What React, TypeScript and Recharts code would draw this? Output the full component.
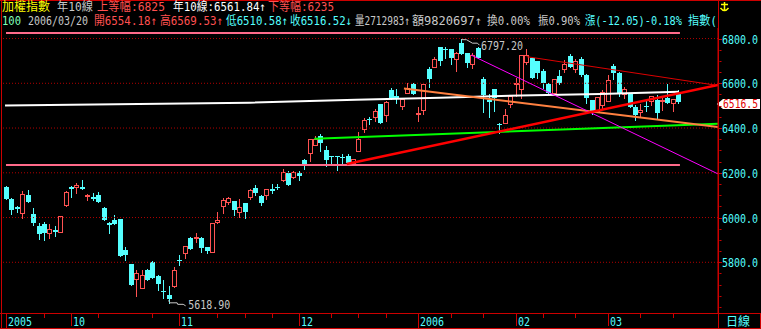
import React from 'react';
import { ComposedChart, Bar, Line, XAxis, YAxis, ReferenceLine, ReferenceDot } from 'recharts';

// ---------- data ----------
const opens = [
  6136, 6082, 6048, 6021, 6099, 6018, 5962, 5969, 5932, 5944,
  5937, 6055, 6136, 6136, 6135, 6095, 6092, 6102, 6043, 5974,
  5988, 5993, 5855, 5793, 5725, 5683, 5766, 5803, 5737, 5670,
  5652, 5695, 5811, 5840, 5907, 5910, 5907, 5867, 5848, 5982,
  6052, 6070, 6073, 6025, 6065, 6093, 6133, 6096, 6101, 6126,
  6138, 6170, 6197, 6182, 6200, 6259, 6289, 6323, 6363, 6304,
  6274, 6277, 6271, 6277, 6244, 6296, 6394, 6439, 6449, 6506,
  6458, 6569, 6543, 6499, 6555, 6596, 6464, 6479, 6663, 6675,
  6760, 6755, 6755, 6710, 6782, 6734, 6688, 6757, 6621, 6524,
  6573, 6418, 6424, 6506, 6596, 6573, 6696, 6715, 6700, 6655,
  6596, 6555, 6633, 6665, 6723, 6662, 6709, 6637, 6526, 6477,
  6501, 6523, 6677, 6644, 6553, 6556, 6492, 6471, 6499, 6523,
  6526, 6521, 6533, 6511, 6554.18,
];
const highs = [
  6139, 6088, 6053, 6117, 6121, 6042, 5974, 5979, 5969, 5963,
  6009, 6119, 6141, 6156, 6170, 6107, 6111, 6113, 6046, 5978,
  6011, 5993, 5867, 5793, 5766, 5766, 5771, 5806, 5744, 5722,
  5696, 5778, 5833, 5873, 5911, 5932, 5911, 5867, 5974, 6025,
  6088, 6092, 6073, 6082, 6065, 6126, 6144, 6099, 6129, 6148,
  6148, 6215, 6210, 6210, 6207, 6262, 6351, 6363, 6373, 6321,
  6277, 6277, 6286, 6286, 6262, 6381, 6443, 6449, 6484, 6506,
  6521, 6578, 6573, 6528, 6603, 6603, 6496, 6596, 6675, 6719,
  6764, 6764, 6755, 6740, 6797.2, 6734, 6737, 6760, 6628, 6551,
  6573, 6421, 6484, 6546, 6625, 6725, 6752, 6715, 6700, 6666,
  6603, 6618, 6660, 6703, 6730, 6710, 6716, 6640, 6526, 6538,
  6570, 6637, 6684, 6652, 6585, 6556, 6504, 6507, 6526, 6545,
  6548, 6536, 6596, 6529, 6569.53,
];
const lows = [
  6082, 6015, 6024, 6000, 6070, 5966, 5904, 5900, 5910, 5917,
  5937, 6051, 6092, 6111, 6126, 6077, 6077, 6070, 5988, 5932,
  5971, 5830, 5811, 5697, 5651, 5683, 5720, 5728, 5678, 5641,
  5618.9, 5688, 5789, 5821, 5858, 5892, 5848, 5840, 5848, 5977,
  6022, 6062, 6011, 6003, 6000, 6081, 6099, 6055, 6081, 6111,
  6126, 6163, 6145, 6175, 6167, 6215, 6252, 6323, 6296, 6230,
  6241, 6212, 6244, 6244, 6244, 6296, 6382, 6416, 6431, 6421,
  6431, 6528, 6513, 6484, 6555, 6551, 6431, 6461, 6585, 6675,
  6681, 6715, 6685, 6655, 6733, 6675, 6670, 6712, 6472, 6451,
  6476, 6379, 6421, 6496, 6543, 6536, 6688, 6625, 6625, 6581,
  6551, 6549, 6596, 6652, 6671, 6650, 6634, 6510, 6462, 6470,
  6486, 6523, 6619, 6545, 6533, 6496, 6437, 6449, 6477, 6504,
  6444, 6481, 6511, 6474, 6510.58,
];
const closes = [
  6082, 6033, 6037, 6104, 6070, 5977, 5926, 5932, 5948, 5937,
  6009, 6116, 6129, 6144, 6129, 6099, 6082, 6070, 5988, 5965,
  5971, 5830, 5833, 5700, 5752, 5744, 5722, 5728, 5704, 5666,
  5638, 5766, 5808, 5873, 5861, 5914, 5864, 5852, 5974, 5988,
  6077, 6088, 6033, 6045, 6025, 6123, 6108, 6064, 6129, 6120,
  6133, 6204, 6145, 6204, 6185, 6237, 6351, 6351, 6333, 6255,
  6270, 6270, 6264, 6244, 6262, 6351, 6436, 6434, 6476, 6421,
  6516, 6536, 6536, 6528, 6581, 6554, 6469, 6596, 6621, 6710,
  6700, 6749, 6715, 6737, 6733, 6690, 6725, 6715, 6546, 6516,
  6536, 6412, 6457, 6543, 6600, 6725, 6725, 6625, 6648, 6603,
  6558, 6618, 6600, 6688, 6673, 6698, 6637, 6535, 6477, 6538,
  6560, 6615, 6644, 6556, 6575, 6496, 6459, 6481, 6493, 6541,
  6467, 6526, 6511, 6528.57, 6516.52,
];

const monthTickIdx = [0, 12, 32, 54, 76, 94, 111];
const monthTickLabels = ['2005', '10', '11', '12', '2006', '02', '03'];
const weekTickIdx = [7, 17, 27, 39, 44, 49, 60, 65, 70, 82, 88, 99, 105, 117, 123];

const priceTicks = [5600, 5650, 5700, 5750, 5800, 5850, 5900, 5950, 6000, 6050, 6100, 6150, 6200,
  6250, 6300, 6350, 6400, 6450, 6500, 6550, 6600, 6650, 6700, 6750, 6800];
const gridLevels = [5800, 6000, 6200, 6400, 6600, 6800];

const upperBand = [{ i: 0, v: 6825 }, { i: 124.3, v: 6825 }];
const lowerBand = [{ i: 0, v: 6235 }, { i: 124.3, v: 6235 }];
const yearLine = [
  { i: -0.18, v: 6500.8 }, { i: 45.0, v: 6513.3 }, { i: 64.55, v: 6526.7 }, { i: 80.05, v: 6535.6 },
  { i: 94.8, v: 6545.5 }, { i: 109.6, v: 6552.2 }, { i: 124.1, v: 6561.84 },
];
const greenTrend = [{ i: 56.86, v: 6352.4 }, { i: 131.32, v: 6419 }];
const redTrend = [{ i: 62.84, v: 6239.3 }, { i: 131.32, v: 6592 }];
const orangeTrend = [{ i: 73.4, v: 6577 }, { i: 131.32, v: 6405 }];
const magentaTrend = [{ i: 85.76, v: 6726.5 }, { i: 131.32, v: 6195 }];
const darkRedTrend = [{ i: 96.04, v: 6718.9 }, { i: 131.32, v: 6590 }];

const X_DOMAIN: [number, number] = [-0.553, 131.32];
const Y_DOMAIN: [number, number] = [5573.4, 6847.1];

// ---------- styles ----------
const UP = '#ff5252';
const DOWN = '#55ffff';
const FRAME = '#cc0000';
const GRID = '#b00000';
const CYAN = '#55ffff';
const GRAY = '#c8c8c8';
const FONT = "'DejaVu Sans Mono','Noto Sans CJK TC',monospace";

const candles = opens.map((o, i) => ({
  i, o, h: highs[i], l: lows[i], c: closes[i], range: [lows[i], highs[i]],
}));

const allTicks = [...monthTickIdx, ...weekTickIdx].sort((a, b) => a - b);

const hiIdx = highs.indexOf(Math.max(...highs));
const loIdx = lows.indexOf(Math.min(...lows));
const last = candles[candles.length - 1];

// text squeezed horizontally to a given width (bitmap-font look), via scaleX
const natWidth = (s: string, size: number) =>
  Array.from(s).reduce((acc, ch) => acc + (ch.charCodeAt(0) >= 0x2e80 ? size : 0.602 * size), 0);

const Txt = ({ x, y, w, fill, size = 13, children }: { x: number; y: number; w: number; fill: string; size?: number; children: string }) => {
  const sx = w / natWidth(children, size);
  return (
    <text transform={`translate(${x},${y}) scale(${sx.toFixed(4)},1)`} x={0} y={0} fill={fill}
      fontSize={size} fontFamily={FONT}>{children}</text>
  );
};

const Candle = (props: any) => {
  const { x, y, width, height, payload } = props;
  if (x == null || y == null || !payload) return null;
  const { o, h, l, c } = payload;
  const top = Math.min(y, y + height);
  const bot = Math.max(y, y + height);
  const k = h > l ? (bot - top) / (h - l) : 0;
  const py = (v: number) => top + (h - v) * k;
  const cx = Math.round(x + width / 2);
  const up = c >= o;
  const yo = py(o);
  const yc = py(c);
  const bTop = Math.round(Math.min(yo, yc));
  const bBot = Math.round(Math.max(yo, yc));
  const hi = Math.round(top);
  const lo = Math.round(bot);
  const wx = cx + 0.5;
  if (up) {
    return (
      <g>
        <line x1={wx} x2={wx} y1={hi} y2={bTop} stroke={UP} strokeWidth={1} />
        <line x1={wx} x2={wx} y1={bBot + 1} y2={lo + 1} stroke={UP} strokeWidth={1} />
        {bBot - bTop >= 1 ? (
          <rect x={cx - 1.5} y={bTop + 0.5} width={4} height={bBot - bTop} fill="#000" stroke={UP} strokeWidth={1} />
        ) : (
          <line x1={cx - 2} x2={cx + 3} y1={bTop + 0.5} y2={bTop + 0.5} stroke={UP} strokeWidth={1} />
        )}
      </g>
    );
  }
  return (
    <g>
      <line x1={wx} x2={wx} y1={hi} y2={lo + 1} stroke={DOWN} strokeWidth={1} />
      <rect x={cx - 2} y={bTop} width={5} height={Math.max(bBot - bTop, 1)} fill={DOWN} />
    </g>
  );
};

const XTick = (props: any) => {
  const { x, y, payload } = props;
  const v = payload.value;
  const k = monthTickIdx.indexOf(v);
  const xr = Math.round(x) + 0.5;
  if (k < 0) {
    return <line x1={xr} x2={xr} y1={y + 1} y2={y + 5} stroke={FRAME} />;
  }
  const lab = monthTickLabels[k];
  const isYear = lab.length === 4;
  return (
    <g>
      <line x1={xr} x2={xr} y1={y + 1} y2={isYear ? y + 16 : y + 13} stroke={FRAME} />
      <Txt x={xr + 1.5} y={y + 12.5} w={lab.length * 6} fill={CYAN}>{lab}</Txt>
    </g>
  );
};

const YTick = (props: any) => {
  const { x, y, payload } = props;
  const v = payload.value;
  const major = gridLevels.includes(v);
  const yr = Math.round(y) + 0.5;
  return (
    <g>
      {major ? (
        <line x1={x} x2={x + 4} y1={yr} y2={yr} stroke={FRAME} />
      ) : (
        <line x1={x + 1.5} x2={x + 3.5} y1={yr} y2={yr} stroke={FRAME} />
      )}
      {major && <Txt x={x + 4} y={y + 5} w={36} fill={CYAN}>{v.toFixed(1)}</Txt>}
    </g>
  );
};

const HighMark = (p: any) => {
  const { cx, cy } = p;
  return (
    <g>
      <polyline points={`${cx},${cy + 0.5} ${cx + 5},${cy + 0.5} ${cx + 11},${cy + 4} ${cx + 16},${cy + 4} ${cx + 18},${cy + 6}`}
        fill="none" stroke={GRAY} strokeWidth={1} />
      <Txt x={cx + 19.5} y={cy + 10.5} w={42} fill={GRAY}>{highs[hiIdx].toFixed(2)}</Txt>
    </g>
  );
};

const LowMark = (p: any) => {
  const { cx, cy } = p;
  return (
    <g>
      <polyline points={`${cx},${cy - 2.5} ${cx + 1},${cy} ${cx + 8.5},${cy} ${cx + 9},${cy + 1.5} ${cx + 14.5},${cy + 1.5} ${cx + 17},${cy + 3}`}
        fill="none" stroke={GRAY} strokeWidth={1} />
      <Txt x={cx + 19.5} y={cy + 6.5} w={42} fill={GRAY}>{lows[loIdx].toFixed(2)}</Txt>
    </g>
  );
};

const PriceTag = (p: any) => {
  const { cx, cy } = p;
  const t = cy - 3;
  const b = cy + 7;
  const m = (t + b) / 2;
  return (
    <g>
      <polygon points={`${cx - 1},${m} ${cx + 5},${t} ${cx + 42},${t} ${cx + 42},${b} ${cx + 5},${b}`} fill="#ffffff" />
      <Txt x={cx + 5} y={b - 1} w={35} fill="#e00000">{last.c.toFixed(1)}</Txt>
    </g>
  );
};

type Seg = [string, number, number, string];
const headerLine1: Seg[] = [
  ['加權指數', 2, 48, '#ffff00'],
  ['年10線', 57, 36, GRAY],
  ['上等幅:6825', 97, 68, '#ff5050'],
  ['年10線:6561.84↑', 173, 93, '#ffffff'],
  ['下等幅:6235', 268, 66, '#ff5050'],
];
const headerLine2: Seg[] = [
  ['100', 2, 19, '#80ffb8'],
  ['2006/03/20', 28, 60, GRAY],
  ['開6554.18↑', 94, 63, '#ff5050'],
  ['高6569.53↑', 160, 63, '#ff5050'],
  ['低6510.58↑', 226, 62, CYAN],
  ['收6516.52↓', 290, 62, CYAN],
  ['量2712983↑', 355, 55, GRAY],
  ['額9820697↑', 412, 70, GRAY],
  ['換0.00%', 487, 43, GRAY],
  ['振0.90%', 538, 42, GRAY],
  ['漲(-12.05)-0.18%', 585, 97, CYAN],
  ['指數(', 688, 29, CYAN],
];

export default function App() {
  return (
    <div style={{ position: 'absolute', left: 0, top: 0, width: 761, height: 329, background: '#000', overflow: 'hidden' }}>
      <ComposedChart width={761} height={329} data={candles}
        margin={{ top: 28, right: 0, bottom: 0, left: 3 }}>
        <XAxis dataKey="i" type="number" domain={X_DOMAIN} allowDataOverflow ticks={allTicks}
          interval={0} height={16} axisLine={false} tickLine={false} tickSize={0} tickMargin={0}
          tick={<XTick />} />
        <YAxis orientation="right" type="number" domain={Y_DOMAIN} allowDataOverflow ticks={priceTicks}
          interval={0} width={43} axisLine={{ stroke: FRAME }} tickLine={false} tickSize={0} tickMargin={0}
          tick={<YTick />} />
        {gridLevels.map((g) => (
          <ReferenceLine key={g} y={g} stroke={GRID} strokeDasharray="1 2" />
        ))}
        <Bar dataKey="range" barSize={5} shape={<Candle />} isAnimationActive={false} />
        <Line data={upperBand} dataKey="v" stroke="#ff6a8a" strokeWidth={2} dot={false} activeDot={false} isAnimationActive={false} />
        <Line data={lowerBand} dataKey="v" stroke="#ff6a8a" strokeWidth={2} dot={false} activeDot={false} isAnimationActive={false} />
        <Line data={yearLine} dataKey="v" stroke="#ffffff" strokeWidth={2} dot={false} activeDot={false} isAnimationActive={false} />
        <Line data={greenTrend} dataKey="v" stroke="#00ff00" strokeWidth={2} dot={false} activeDot={false} isAnimationActive={false} />
        <Line data={orangeTrend} dataKey="v" stroke="#ff8040" strokeWidth={2} dot={false} activeDot={false} isAnimationActive={false} />
        <Line data={magentaTrend} dataKey="v" stroke="#ff00ff" strokeWidth={1} dot={false} activeDot={false} isAnimationActive={false} />
        <Line data={darkRedTrend} dataKey="v" stroke="#dd0000" strokeWidth={1} dot={false} activeDot={false} isAnimationActive={false} />
        <Line data={redTrend} dataKey="v" stroke="#ff0000" strokeWidth={2.5} dot={false} activeDot={false} isAnimationActive={false} />
        <ReferenceDot x={hiIdx} y={highs[hiIdx]} r={0} ifOverflow="visible" shape={HighMark} />
        <ReferenceDot x={loIdx} y={lows[loIdx]} r={0} ifOverflow="visible" shape={LowMark} />
        <ReferenceDot x={X_DOMAIN[1]} y={last.c} r={0} ifOverflow="visible" shape={PriceTag} />
      </ComposedChart>
      <svg width={761} height={329} style={{ position: 'absolute', left: 0, top: 0, pointerEvents: 'none' }}>
        <line x1={0} x2={761} y1={0.5} y2={0.5} stroke={FRAME} />
        <line x1={1.5} x2={1.5} y1={0} y2={329} stroke={FRAME} />
        <line x1={718.5} x2={718.5} y1={0} y2={329} stroke={FRAME} />
        <line x1={0} x2={761} y1={313.5} y2={313.5} stroke={FRAME} />
        <line x1={0} x2={761} y1={328.5} y2={328.5} stroke={FRAME} />
        <line x1={760.5} x2={760.5} y1={313} y2={329} stroke={FRAME} />
        {headerLine1.map(([t, x, w, c]) => (
          <Txt key={t} x={x} y={10.8} w={w} size={12} fill={c}>{t}</Txt>
        ))}
        {headerLine2.map(([t, x, w, c]) => (
          <Txt key={t} x={x} y={24.8} w={w} size={12} fill={c}>{t}</Txt>
        ))}
        <g stroke="#ffff00" strokeWidth={1.5} fill="none">
          <line x1={724.5} x2={724.5} y1={2} y2={11} />
          <line x1={721} x2={728} y1={4.5} y2={4.5} />
          <path d="M720.5 8 Q724.5 13 728.5 8" />
        </g>
        <Txt x={726} y={326} w={24} size={12} fill={CYAN}>日線</Txt>
      </svg>
    </div>
  );
}
